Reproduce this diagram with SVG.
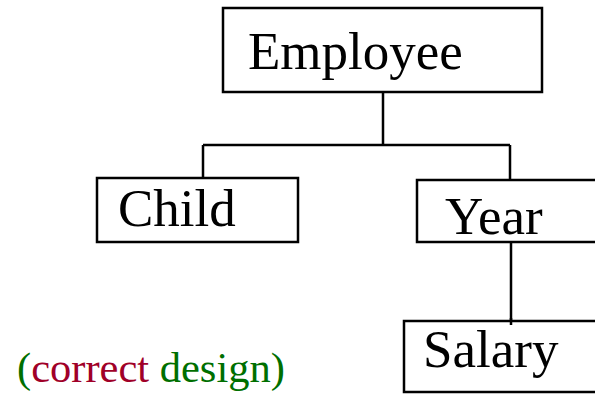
<svg xmlns="http://www.w3.org/2000/svg" width="595" height="394" viewBox="0 0 595 394">
<style>
.box{fill:#fff;stroke:#000;stroke-width:2.5}
.lbl{font-family:"Liberation Serif","Times New Roman",serif;font-size:53px;fill:#000}
.con{fill:none;stroke:#000;stroke-width:2.5}
.note{font-family:"Liberation Serif","Times New Roman",serif;font-size:42.5px}
</style>
<rect width="595" height="394" fill="#fff"/>
<g id="connectors">
<path class="con" d="M383 92 V145 M203 145 H510 M203 145 V178 M510 145 V180 M511 242 V325"/>
</g>
<g id="employee">
<rect class="box" x="223" y="8" width="319" height="84"/>
<text class="lbl" x="248" y="69">Employee</text>
</g>
<g id="child">
<rect class="box" x="97" y="178" width="201" height="64"/>
<text class="lbl" x="118" y="226">Child</text>
</g>
<g id="year">
<rect class="box" x="417" y="180" width="200" height="62"/>
<text class="lbl" x="445" y="234">Year</text>
</g>
<g id="salary">
<rect class="box" x="404" y="321" width="200" height="71"/>
<path class="con" d="M511 318 V325"/>
<text class="lbl" x="423" y="367">Salary</text>
</g>
<text class="note" x="17" y="382"><tspan fill="#006f00">(</tspan><tspan fill="#a00028">correct</tspan><tspan fill="#006f00"> design)</tspan></text>
</svg>
